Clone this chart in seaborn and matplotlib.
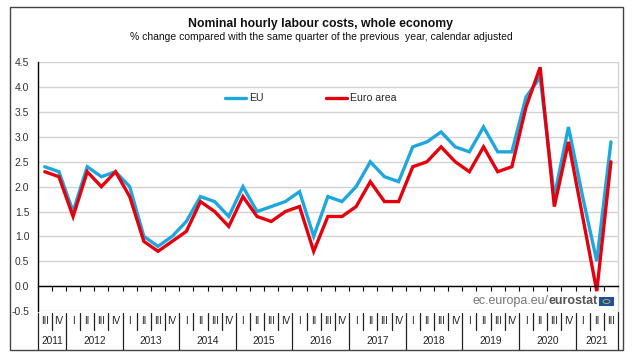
import matplotlib
matplotlib.use("Agg")
import matplotlib.pyplot as plt
import matplotlib.transforms as mtransforms
from matplotlib.patches import Rectangle, Circle
import seaborn as sns
import pandas as pd
import numpy as np

# ---------------- data ----------------
quarters = ["III", "IV"] + ["I", "II", "III", "IV"] * 9 + ["I", "II", "III"]
years = ["2011", "2012", "2013", "2014", "2015", "2016", "2017", "2018", "2019", "2020", "2021"]
eu = [2.4, 2.3,
      1.5, 2.4, 2.2, 2.3,
      2.0, 1.0, 0.8, 1.0,
      1.3, 1.8, 1.7, 1.4,
      2.0, 1.5, 1.6, 1.7,
      1.9, 1.0, 1.8, 1.7,
      2.0, 2.5, 2.2, 2.1,
      2.8, 2.9, 3.1, 2.8,
      2.7, 3.2, 2.7, 2.7,
      3.8, 4.2, 1.8, 3.2,
      1.8, 0.5, 2.9]
euro_area = [2.3, 2.2,
             1.4, 2.3, 2.0, 2.3,
             1.8, 0.9, 0.7, 0.9,
             1.1, 1.7, 1.5, 1.2,
             1.8, 1.4, 1.3, 1.5,
             1.6, 0.7, 1.4, 1.4,
             1.6, 2.1, 1.7, 1.7,
             2.4, 2.5, 2.8, 2.5,
             2.3, 2.8, 2.3, 2.4,
             3.6, 4.4, 1.6, 2.9,
             1.4, -0.1, 2.5]
y_ticks = [-0.5, 0.0, 0.5, 1.0, 1.5, 2.0, 2.5, 3.0, 3.5, 4.0, 4.5]
title = "Nominal hourly labour costs, whole economy"
subtitle = "% change compared with the same quarter of the previous  year, calendar adjusted"

BLUE = "#1EA7DE"
RED = "#E5000E"

sns.set_theme(style="white")
plt.rcParams['font.family'] = ['Liberation Sans', 'DejaVu Sans']

W, H = 633, 360
fig = plt.figure(figsize=(W / 100, H / 100), dpi=100)
fig.patch.set_facecolor("white")

ax_l, ax_r, ax_t, ax_b = 37.7, 618.0, 62.3, 311.0
ax = fig.add_axes([ax_l / W, 1 - ax_b / H, (ax_r - ax_l) / W, (ax_b - ax_t) / H])

n = len(quarters)
df = pd.DataFrame({"idx": np.arange(n), "EU": eu, "Euro area": euro_area})
long = df.melt(id_vars="idx", var_name="series", value_name="value")
sns.lineplot(data=long, x="idx", y="value", hue="series",
             palette={"EU": BLUE, "Euro area": RED},
             hue_order=["EU", "Euro area"], linewidth=2.4, ax=ax, legend=False)
handles = list(ax.lines[:2])
for h in handles:
    h.set_solid_joinstyle("miter")

ax.set_xlim(-0.5, n - 0.5)
ax.set_ylim(-0.5, 4.5)
ax.set_xlabel("")
ax.set_ylabel("")

# y axis
ax.set_yticks(y_ticks)
ax.set_yticklabels([f"{v:.1f}" for v in y_ticks])
ax.tick_params(axis="y", length=0, pad=6, labelsize=7.5, labelcolor="#333333")
ax.yaxis.grid(True, color="#D3D3D3", linewidth=1)
ax.xaxis.grid(False)
ax.set_axisbelow(True)

# x axis at zero with ticks at category boundaries
bounds = np.arange(0.5, n + 0.5, 1.0)
ax.spines["bottom"].set_position(("data", 0))
ax.spines["bottom"].set_color("black")
ax.spines["bottom"].set_linewidth(1)
ax.set_xticks(bounds)
ax.set_xticklabels([])
ax.tick_params(axis="x", direction="out", length=3.5, width=0.8, color="black", bottom=True)
ax.spines["left"].set_color("black")
ax.spines["left"].set_linewidth(1)
ax.spines["top"].set_visible(False)
ax.spines["right"].set_color("#D3D3D3")
ax.spines["right"].set_linewidth(1)

# legend
ax.legend(handles, ["EU", "Euro area"], loc="center left",
          bbox_to_anchor=((225 - ax_l) / (ax_r - ax_l), (ax_b - 98.3) / (ax_b - ax_t)),
          ncol=2, frameon=False, fontsize=7.6, handlelength=2.0, handletextpad=0.3,
          columnspacing=5.9, borderpad=0, borderaxespad=0)

# category labels below the plot
trans = mtransforms.blended_transform_factory(ax.transData, fig.transFigure)
q_y = 1 - 321.5 / H
yr_y = 1 - 341.5 / H
for i, q in enumerate(quarters):
    ax.text(i, q_y, q, transform=trans, ha="center", va="center", fontsize=7.0,
            color="#222222", clip_on=False)

# year groups: a new year starts at each quarter "I"
starts = [0] + [i for i, q in enumerate(quarters) if q == "I"]
ends = starts[1:] + [n]
for yr, s, e in zip(years, starts, ends):
    ax.text((s + e - 1) / 2, yr_y, yr, transform=trans, ha="center", va="center",
            fontsize=7.3, color="#222222", clip_on=False)

top_sep = 1 - 312.5 / H
short_bot = 1 - 329.5 / H
long_bot = 1 - 349.5 / H
year_edges = set([s - 0.5 for s in starts] + [n - 0.5])
for b in np.arange(-0.5, n + 0.5, 1.0):
    if b in year_edges:
        ax.plot([b, b], [top_sep, long_bot], transform=trans, color="#222222",
                lw=0.9, clip_on=False)
    else:
        ax.plot([b, b], [top_sep, short_bot], transform=trans, color="#222222",
                lw=0.9, clip_on=False)
# right edge line through plot area
ax.plot([n - 0.5, n - 0.5], [1 - ax_b / H, top_sep], transform=trans, color="#222222",
        lw=0.9, clip_on=False)

# titles
fig.text(321 / W, 1 - 24.5 / H, title, ha="center", va="center", fontsize=8.8,
         fontweight="bold", color="#111111")
fig.text(321 / W, 1 - 37 / H, subtitle, ha="center", va="center", fontsize=7.5,
         color="#111111")

# watermark
t2 = fig.text(597.5 / W, 1 - 301 / H, "eurostat", ha="right", va="center",
              fontsize=9.0, fontweight="bold", color="#555555")
fig.canvas.draw()
bb = t2.get_window_extent(renderer=fig.canvas.get_renderer())
fig.text(bb.x0 / W, 1 - 301 / H, "ec.europa.eu/", ha="right", va="center",
         fontsize=9.0, color="#777777")
fig.patches.append(Rectangle((599 / W, 1 - 306 / H), 15 / W, 9 / H,
                             transform=fig.transFigure, facecolor="#1D4FA3",
                             edgecolor="none"))
fig.patches.append(Circle((606.5 / W, 1 - 301.5 / H), 0.0055,
                          transform=fig.transFigure, facecolor="none",
                          edgecolor="#F2D21B", lw=0.5))

# outer frame
fig.patches.append(Rectangle((10 / W, 1 - 350 / H), (623 - 10) / W, (350 - 7) / H,
                             transform=fig.transFigure, fill=False,
                             edgecolor="#444444", lw=1.0))

fig.savefig("out.png", dpi=100, facecolor="white")
